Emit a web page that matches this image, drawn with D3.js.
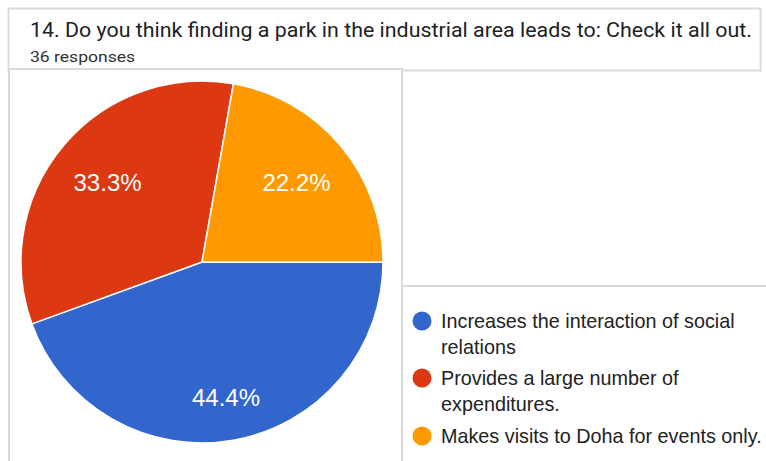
<!DOCTYPE html>
<html>
<head>
<meta charset="utf-8">
<script src="https://cdn.jsdelivr.net/npm/d3@7"></script>
<style>
  html, body { margin: 0; padding: 0; background: #ffffff; }
  svg { display: block; }
</style>
</head>
<body>
<svg id="chart" width="766" height="461"></svg>
<script>
// Survey question and response counts
const questionTitle = "14. Do you think finding a park in the industrial area leads to: Check it all out.";
const responseNote = "36 responses";
const categories = [
  "Increases the interaction of social relations",
  "Provides a large number of expenditures.",
  "Makes visits to Doha for events only."
];
const legendLines = [
  ["Increases the interaction of social", "relations"],
  ["Provides a large number of", "expenditures."],
  ["Makes visits to Doha for events only."]
];
const responses = [16, 12, 8];
const sliceColors = ["#3366cc", "#dc3912", "#ff9900"];

const svg = d3.select("#chart");
const borderColor = "#dadada";

// Card frames
svg.append("rect")
  .attr("x", 8.5).attr("y", 8.5).attr("width", 752).attr("height", 62)
  .attr("fill", "#fff").attr("stroke", borderColor).attr("stroke-width", 2);
svg.append("rect")
  .attr("x", 9).attr("y", 69).attr("width", 393).attr("height", 420)
  .attr("fill", "#fff").attr("stroke", borderColor).attr("stroke-width", 2);
svg.append("rect")
  .attr("x", 402).attr("y", 286).attr("width", 400).attr("height", 220)
  .attr("fill", "#fff").attr("stroke", borderColor).attr("stroke-width", 2);

// Header text
svg.append("text")
  .attr("x", 30).attr("y", 37)
  .attr("font-family", "Roboto, sans-serif").attr("font-size", 21)
  .attr("fill", "#202124")
  .attr("textLength", 722).attr("lengthAdjust", "spacingAndGlyphs")
  .text(questionTitle);
svg.append("text")
  .attr("x", 30).attr("y", 62)
  .attr("font-family", "Roboto, sans-serif").attr("font-size", 15)
  .attr("fill", "#2e3033")
  .attr("textLength", 105).attr("lengthAdjust", "spacingAndGlyphs")
  .text(responseNote);

// Pie
const cx = 202, cy = 262, R = 181;
const total = d3.sum(responses);
const pie = d3.pie().sort(null).startAngle(Math.PI / 2).endAngle(Math.PI / 2 + 2 * Math.PI);
const arcs = pie(responses);
const arc = d3.arc().innerRadius(0).outerRadius(R);

const g = svg.append("g").attr("transform", `translate(${cx},${cy})`);
g.selectAll("path.slice")
  .data(arcs)
  .join("path")
  .attr("class", "slice")
  .attr("d", arc)
  .attr("fill", (d, i) => sliceColors[i])
  .attr("stroke", "#ffffff")
  .attr("stroke-width", 1.5)
  .attr("stroke-linejoin", "round");

// Percentage labels: placed along each slice's mid-angle so the label box's
// outermost corner sits at a fixed fraction of the radius.
const labelFont = 24;
const labelReach = 0.86 * R;
const labels = g.selectAll("text.pct")
  .data(arcs)
  .join("text")
  .attr("class", "pct")
  .attr("font-family", "'Liberation Sans', Arial, sans-serif")
  .attr("font-size", labelFont)
  .attr("fill", "#ffffff")
  .attr("text-anchor", "middle")
  .text(d => (d.value / total * 100).toFixed(1) + "%");

labels.each(function (d) {
  const w = this.getComputedTextLength();
  const h = labelFont * 0.716;
  const a = (d.startAngle + d.endAngle) / 2;
  const ux = Math.sin(a), uy = -Math.cos(a);
  const ox = Math.sign(ux) * w / 2, oy = Math.sign(uy) * h / 2;
  const uo = ux * ox + uy * oy;
  const oo = ox * ox + oy * oy;
  const t = -uo + Math.sqrt(uo * uo - oo + labelReach * labelReach);
  d3.select(this)
    .attr("x", t * ux)
    .attr("y", t * uy + h / 2);
});

// Legend
const legendX = 422;
const legendTop = [321, 378, 436];
const lineGap = 26;
const legend = svg.append("g");
categories.forEach((c, i) => {
  legend.append("circle")
    .attr("cx", legendX).attr("cy", legendTop[i]).attr("r", 9.5)
    .attr("fill", sliceColors[i]);
  legendLines[i].forEach((line, j) => {
    legend.append("text")
      .attr("x", legendX + 19)
      .attr("y", legendTop[i] + 6.5 + j * lineGap)
      .attr("font-family", "'Liberation Sans', Arial, sans-serif")
      .attr("font-size", 19.8)
      .attr("fill", "#222222")
      .text(line);
  });
});
</script>
</body>
</html>
